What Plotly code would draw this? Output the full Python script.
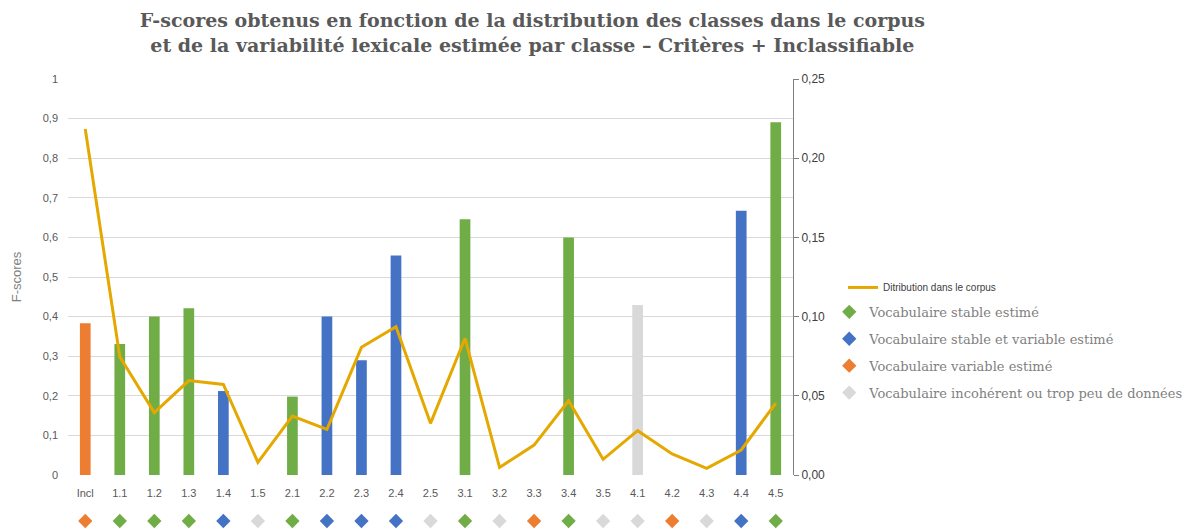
import plotly.graph_objects as go

categories = ["Incl", "1.1", "1.2", "1.3", "1.4", "1.5", "2.1", "2.2", "2.3", "2.4", "2.5",
              "3.1", "3.2", "3.3", "3.4", "3.5", "4.1", "4.2", "4.3", "4.4", "4.5"]
fscores = [0.383, 0.331, 0.400, 0.421, 0.212, None, 0.198, 0.400, 0.290, 0.554, None,
           0.646, None, None, 0.600, None, 0.429, None, None, 0.667, 0.891]
distribution = [0.2184, 0.0747, 0.0394, 0.0596, 0.0572, 0.0080, 0.0372, 0.0288, 0.0806, 0.0936, 0.0326,
                0.0863, 0.0048, 0.0189, 0.0469, 0.0099, 0.0280, 0.0133, 0.0042, 0.0158, 0.0453]
# class of each category: S = stable, SV = stable et variable, V = variable, I = incohérent
classes = ["V", "S", "S", "S", "SV", "I", "S", "SV", "SV", "SV", "I",
           "S", "I", "V", "S", "I", "I", "V", "I", "SV", "S"]
class_names = {
    "S": "Vocabulaire stable estimé",
    "SV": "Vocabulaire stable et variable estimé",
    "V": "Vocabulaire variable estimé",
    "I": "Vocabulaire incohérent ou trop peu de données",
}
class_colors = {"S": "#70AD47", "SV": "#4472C4", "V": "#ED7D31", "I": "#D9D9D9"}

fig = go.Figure()

fig.add_trace(go.Bar(
    x=categories, y=fscores,
    marker=dict(color=[class_colors[c] for c in classes], line=dict(width=0)),
    width=0.31, showlegend=False, xaxis="x", yaxis="y",
))

fig.add_trace(go.Scatter(
    x=categories, y=distribution, xaxis="x", yaxis="y2", mode="lines",
    line=dict(color="#E5A800", width=3),
    name="Ditribution dans le corpus", legend="legend2",
))

for key in ["S", "SV", "V", "I"]:
    xs = [cat for cat, c in zip(categories, classes) if c == key]
    fig.add_trace(go.Scatter(
        x=xs, y=[0] * len(xs), xaxis="x", yaxis="y3", mode="markers",
        marker=dict(symbol="diamond", size=11, color=class_colors[key]),
        name=class_names[key], legend="legend", legendgroup=key, cliponaxis=False,
    ))

tick_font = dict(family="Liberation Sans", size=11, color="#595959")

fig.update_layout(
    width=1199, height=529,
    margin=dict(l=68, r=406, t=79, b=0),
    paper_bgcolor="white", plot_bgcolor="white",
    separators=", ",
    title=dict(
        text="F-scores obtenus en fonction de la distribution des classes dans le corpus<br>"
             "et de la variabilité lexicale estimée par classe – Critères + Inclassifiable",
        x=0.444, xanchor="center", y=0.949, yanchor="top",
        font=dict(family="DejaVu Serif", size=19, color="#595959", weight="bold"),
    ),
    xaxis=dict(
        type="category", showgrid=False, showline=False, zeroline=False,
        tickfont=tick_font, ticks="", ticklabelstandoff=10,
        range=[-0.5, 20.5], anchor="y",
    ),
    yaxis=dict(
        domain=[0.12, 1], range=[0, 1], dtick=0.1, showgrid=True, gridcolor="#D9D9D9", gridwidth=1,
        zeroline=False, showline=False, tickfont=tick_font, ticklabelstandoff=9,
        automargin=False,
        title=dict(text="F-scores", font=dict(family="Liberation Sans", size=13, color="#7F7F7F"),
                   standoff=18),
    ),
    yaxis2=dict(
        range=[0, 0.25], dtick=0.05, tickformat=".2f", overlaying="y", side="right",
        anchor="x", showgrid=False, zeroline=False, showline=True, linecolor="#7F7F7F", linewidth=1,
        ticks="outside", ticklen=5, tickcolor="#7F7F7F", automargin=False,
        tickfont=dict(family="Liberation Sans", size=12, color="#404040"),
    ),
    yaxis3=dict(
        domain=[0, 0.0356], range=[-1, 1], visible=False, anchor="x",
    ),
    legend=dict(
        x=1.050, xanchor="left", y=0.5158, yanchor="top",
        font=dict(family="DejaVu Serif", size=13, color="#7F7F7F"),
        traceorder="grouped", tracegroupgap=7, bgcolor="rgba(0,0,0,0)",
        itemwidth=30,
    ),
    legend2=dict(
        x=1.069, xanchor="left", y=0.569, yanchor="top",
        font=dict(family="Liberation Sans", size=10, color="#404040"),
        bgcolor="rgba(0,0,0,0)", itemwidth=30,
    ),
)

fig.write_html("out.html", config={"displayModeBar": False},
               post_script="document.body.style.margin='0';")
